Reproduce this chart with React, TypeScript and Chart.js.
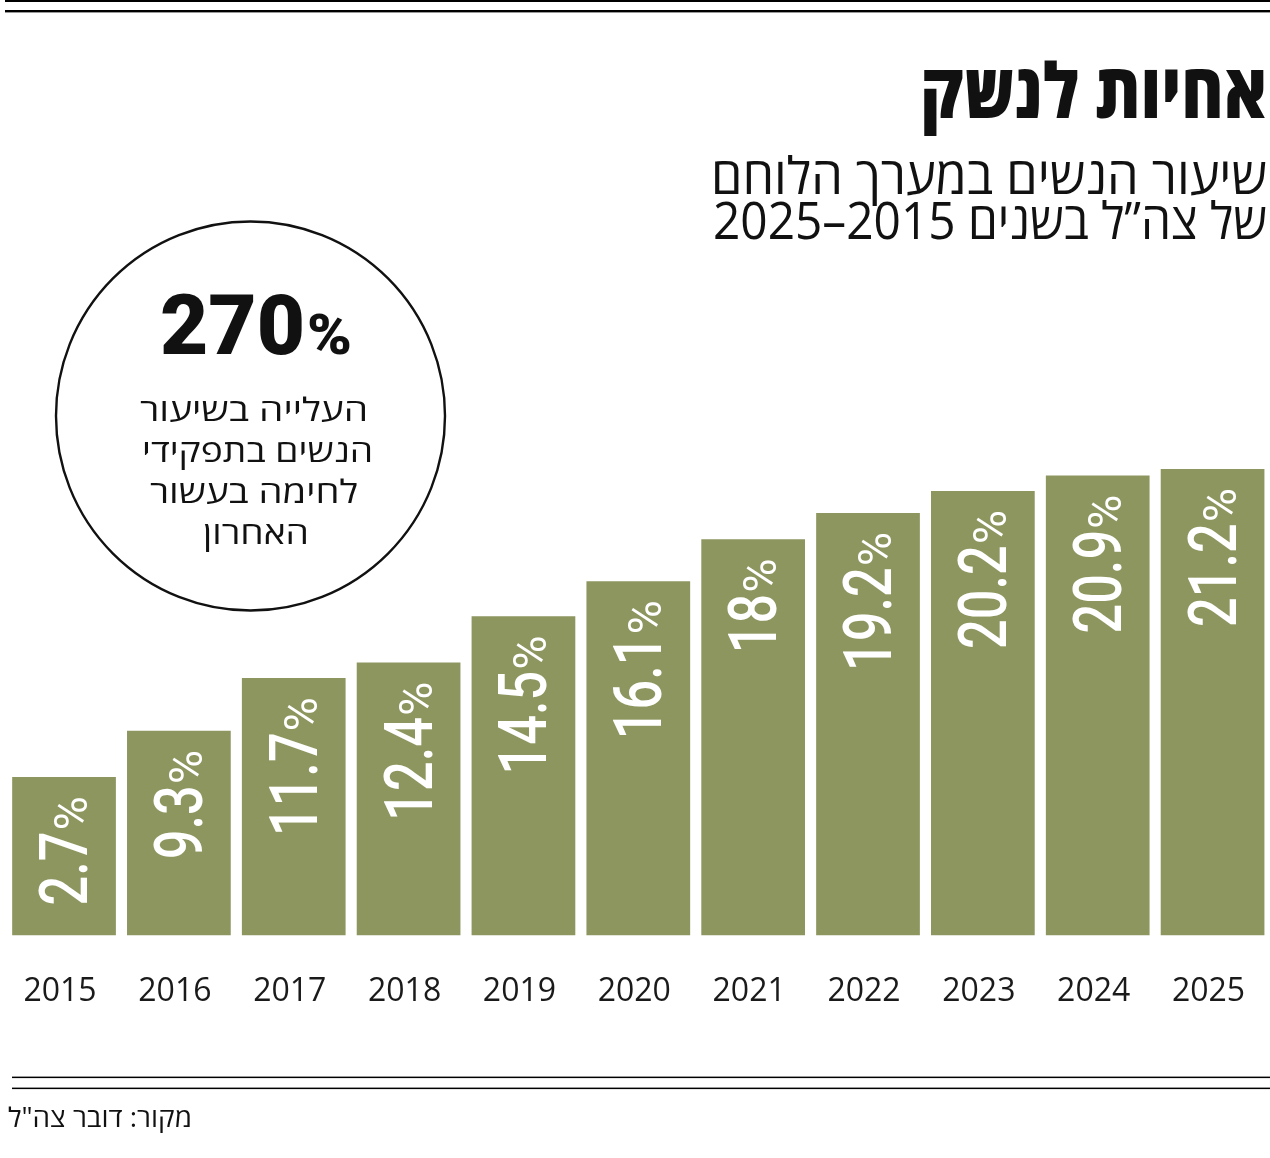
import React, { useEffect, useRef } from "react";
import { Chart, registerables } from "chart.js";

Chart.register(...registerables);

// ---- data ----
const years = ["2015", "2016", "2017", "2018", "2019", "2020", "2021", "2022", "2023", "2024", "2025"];
// printed share of women in combat roles (%)
const shareValues = [2.7, 9.3, 11.7, 12.4, 14.5, 16.1, 18, 19.2, 20.2, 20.9, 21.2];
// bar lengths as drawn in the source graphic (the 2015 bar is drawn taller than its value)
const barLengths = [7.2, 9.3, 11.7, 12.4, 14.5, 16.1, 18.0, 19.2, 20.2, 20.9, 21.2];

const titleText = "אחיות לנשק";
const subtitleLines = ["שיעור הנשים במערך הלוחם", "של צה”ל בשנים 2015–2025"];
const calloutNumber = "270";
const calloutLines = ["העלייה בשיעור", "הנשים בתפקידי", "לחימה בעשור", "האחרון"];
const sourceText = "מקור: דובר צה\"ל";

const BAR_COLOR = "#8d965f";
const W = 1270;
const H = 1158;

function fitText(
  ctx: CanvasRenderingContext2D,
  text: string,
  x: number,
  y: number,
  width: number,
  font: string,
  align: CanvasTextAlign,
  rtl: boolean
) {
  ctx.save();
  ctx.font = font;
  ctx.direction = rtl ? "rtl" : "ltr";
  const w = ctx.measureText(text).width;
  const s = width / w;
  ctx.translate(x, y);
  ctx.scale(s, 1);
  ctx.textAlign = align;
  ctx.textBaseline = "alphabetic";
  ctx.fillText(text, 0, 0);
  ctx.restore();
}

const decorPlugin = {
  id: "decor",
  afterDatasetsDraw(chart: any) {
    const ctx: CanvasRenderingContext2D = chart.ctx;
    const meta = chart.getDatasetMeta(0);
    meta.data.forEach((bar: any, i: number) => {
      const numText = String(shareValues[i]);
      ctx.save();
      ctx.fillStyle = "#ffffff";
      ctx.translate(bar.x + 23, bar.y + 19);
      ctx.rotate(-Math.PI / 2);
      ctx.textBaseline = "alphabetic";
      // percent sign (smaller)
      ctx.font = "400 47px Roboto";
      ctx.textAlign = "right";
      const pw = ctx.measureText("%").width;
      ctx.fillText("%", 0, 0);
      // number (condensed)
      ctx.translate(-pw - 1, 0);
      ctx.scale(0.78, 1);
      ctx.font = "500 67px Roboto";
      ctx.textAlign = "right";
      ctx.fillText(numText, 0, 0);
      ctx.restore();
    });
  },
  afterDraw(chart: any) {
    const ctx: CanvasRenderingContext2D = chart.ctx;
    ctx.save();
    ctx.fillStyle = "#000000";
    // top rules
    ctx.fillRect(5, 0, W - 5, 2);
    ctx.fillRect(5, 10, W - 5, 2.4);
    // bottom rules
    ctx.fillRect(12, 1076.6, W - 12, 1.5);
    ctx.fillRect(12, 1087.6, W - 12, 1.5);

    // title
    ctx.fillStyle = "#111111";
    fitText(ctx, titleText, 1267, 118, 347, "800 76px 'Open Sans'", "right", true);
    // subtitle
    fitText(ctx, subtitleLines[0], 1267, 194, 556, "400 51px 'Open Sans'", "right", true);
    fitText(ctx, subtitleLines[1], 1267, 239, 554, "400 51px 'Open Sans'", "right", true);

    // callout circle
    ctx.beginPath();
    ctx.arc(250.5, 416, 194.5, 0, Math.PI * 2);
    ctx.lineWidth = 2.4;
    ctx.strokeStyle = "#111111";
    ctx.stroke();

    fitText(ctx, calloutNumber, 160, 354, 145, "900 83px Roboto", "left", false);
    fitText(ctx, "%", 307, 354, 45, "900 56px Roboto", "left", false);

    const cw = [228, 231, 208, 106];
    const cb = [421, 462, 503, 544];
    const cx = [254, 257.5, 254, 256];
    calloutLines.forEach((t, i) => {
      fitText(ctx, t, cx[i], cb[i], cw[i], "400 32px 'Open Sans'", "center", true);
    });

    // source
    fitText(ctx, sourceText, 8, 1127, 184, "400 27px 'Open Sans'", "left", true);
    ctx.restore();
  },
};

export default function App() {
  const canvasRef = useRef<HTMLCanvasElement | null>(null);

  useEffect(() => {
    document.body.style.margin = "0";
    const canvas = canvasRef.current;
    if (!canvas) return;
    const chart = new Chart(canvas, {
      type: "bar",
      data: {
        labels: years,
        datasets: [
          {
            data: barLengths,
            backgroundColor: BAR_COLOR,
            borderWidth: 0,
            barPercentage: 0.903,
            categoryPercentage: 1,
          },
        ],
      },
      options: {
        responsive: false,
        animation: false,
        devicePixelRatio: 1,
        layout: { padding: { top: 385.25, left: 6.6, right: 0, bottom: 0 } },
        plugins: {
          legend: { display: false },
          tooltip: { enabled: false },
          title: { display: false },
        },
        scales: {
          x: {
            grid: { display: false, drawTicks: true, tickLength: 37 },
            border: { display: false },
            ticks: {
              color: "#1a1a1a",
              font: { family: "'Open Sans'", size: 32 },
              padding: 0,
              labelOffset: -4,
              maxRotation: 0,
              autoSkip: false,
            },
            afterFit: (scale: any) => {
              scale.height = 222.5;
            },
          },
          y: {
            display: false,
            min: 0,
            max: 25,
          },
        },
      },
      plugins: [decorPlugin],
    });
    return () => chart.destroy();
  }, []);

  return (
    <canvas
      ref={canvasRef}
      width={W}
      height={H}
      style={{ display: "block", width: W + "px", height: H + "px", background: "#ffffff" }}
    />
  );
}
